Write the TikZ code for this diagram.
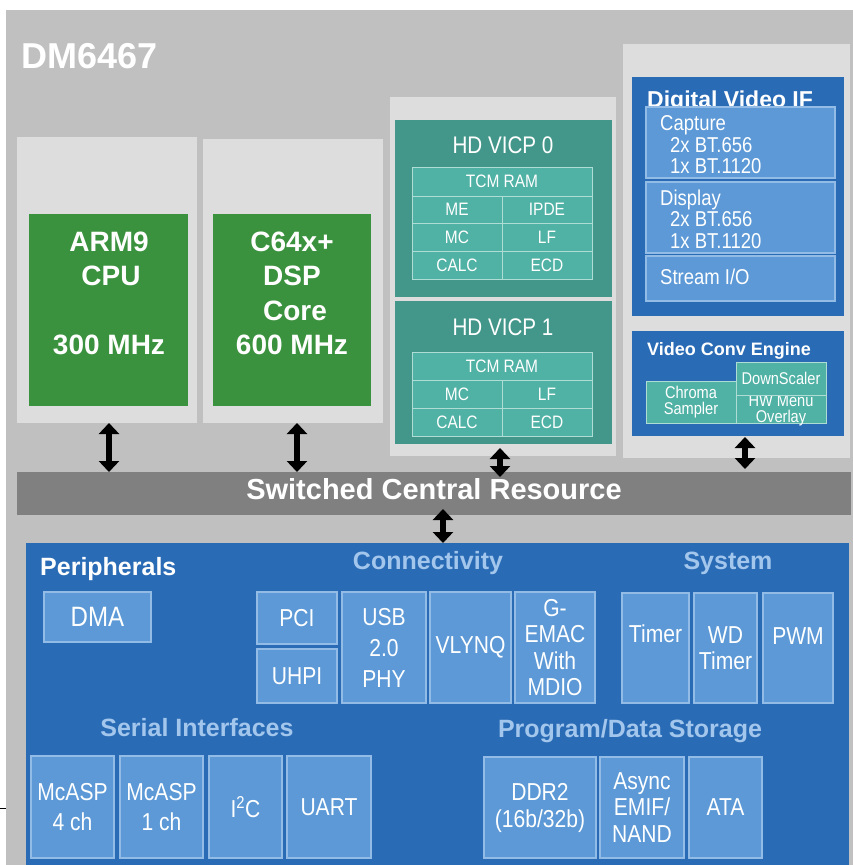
\documentclass[tikz,border=0pt]{standalone}
\usepackage{fontspec}
\setmainfont{Liberation Sans}
\newfontfamily\narrowfont[FakeStretch=0.86]{Liberation Sans}
\usetikzlibrary{arrows.meta}
\definecolor{outergray}{HTML}{C0C0C0}
\definecolor{lightgray}{HTML}{DDDDDD}
\definecolor{cpugreen}{HTML}{3B923E}
\definecolor{teal1}{HTML}{43978A}
\definecolor{tealcell}{HTML}{50B1A5}
\definecolor{tealedge}{HTML}{B0DCD6}
\definecolor{blue1}{HTML}{2A6BB5}
\definecolor{bluecell}{HTML}{5C99D6}
\definecolor{blueedge}{HTML}{92BBE6}
\definecolor{scrgray}{HTML}{808080}
\definecolor{headblue}{HTML}{A3C6EC}
\tikzset{
  rbox/.style={anchor=north west, inner sep=0pt, outer sep=0pt},
  lgbox/.style={rbox, fill=lightgray},
  cpubox/.style={rbox, fill=cpugreen},
  cputext/.style={text=white, inner sep=0pt, align=center, font=\fontsize{28}{34.3}\selectfont\bfseries},
  vicpbox/.style={rbox, fill=teal1},
  vicptitle/.style={text=white, inner sep=0pt, font=\narrowfont\fontsize{24}{28}\selectfont},
  tcell/.style={rbox, fill=tealcell, draw=tealedge, line width=1pt, text=white, align=center, font=\narrowfont\fontsize{18}{20}\selectfont},
  bluebox/.style={rbox, fill=blue1},
  subbox/.style={rbox, fill=bluecell, draw=blueedge, line width=1.2pt},
  subtext/.style={anchor=west, inner sep=0pt, text=white, align=left, font=\narrowfont\fontsize{21.5}{21.5}\selectfont},
  pbox/.style={subbox, text=white, align=center, font=\narrowfont\fontsize{24.5}{27}\selectfont},
  ptext/.style={text=white, inner sep=0pt, align=center, font=\narrowfont\fontsize{24.5}{27}\selectfont},
  pheading/.style={anchor=base, inner sep=0pt, text=headblue, font=\fontsize{25}{30}\selectfont\bfseries},
  dblarrow/.style={line width=6.5pt, black, {Triangle[width=20pt,length=11pt]}-{Triangle[width=20pt,length=11pt]}}
}
\begin{document}
\begin{tikzpicture}[x=1pt,y=-1pt]
\useasboundingbox (0,0) rectangle (853,865);
% chip background
\node[rbox, fill=outergray, minimum width=847pt, minimum height=855pt] (chip) at (6,10) {};
\node[anchor=base west, inner sep=0pt, text=white, font=\fontsize{36}{40}\selectfont\bfseries] (title) at (21,68) {DM6467};
\coordinate (tickA) at (0,808);
\coordinate (tickB) at (6,808);
\draw[black, line width=0.8pt] (tickA) -- (tickB);

% CPU blocks
\node[lgbox, minimum width=180pt, minimum height=286pt] (armL) at (17,137) {};
\node[cpubox, minimum width=159pt, minimum height=192pt] (arm) at (29,214) {};
\node[cputext] (armT) at (109,293.5) {ARM9\\\hspace*{4pt}CPU\\~\\300 MHz};
\node[lgbox, minimum width=180pt, minimum height=284pt] (dspL) at (203,139) {};
\node[cpubox, minimum width=158pt, minimum height=192pt] (dsp) at (213,214) {};
\node[cputext] (dspT) at (292,293.5) {C64x+\\DSP\\\hspace*{6pt}Core\\600 MHz};

% HD VICP
\node[lgbox, minimum width=226pt, minimum height=359pt] (vicpL) at (390,97) {};
\node[vicpbox, minimum width=217pt, minimum height=177pt] (vicp0) at (395,120) {};
\node[vicptitle] (vicp0T) at (503,145) {HD VICP 0};
\node[tcell, minimum width=180pt, minimum height=29pt] (tcm0) at (412,167) {TCM RAM};
\node[tcell, minimum width=90pt, minimum height=27pt] (me0) at (412,196) {ME};
\node[tcell, minimum width=90pt, minimum height=27pt] (ipde0) at (502,196) {IPDE};
\node[tcell, minimum width=90pt, minimum height=28pt] (mc0) at (412,223) {MC};
\node[tcell, minimum width=90pt, minimum height=28pt] (lf0) at (502,223) {LF};
\node[tcell, minimum width=90pt, minimum height=28pt] (calc0) at (412,251) {CALC};
\node[tcell, minimum width=90pt, minimum height=28pt] (ecd0) at (502,251) {ECD};
\node[vicpbox, minimum width=217pt, minimum height=143pt] (vicp1) at (395,301) {};
\node[vicptitle] (vicp1T) at (503,327) {HD VICP 1};
\node[tcell, minimum width=180pt, minimum height=28pt] (tcm1) at (412,352) {TCM RAM};
\node[tcell, minimum width=90pt, minimum height=28pt] (mc1) at (412,380) {MC};
\node[tcell, minimum width=90pt, minimum height=28pt] (lf1) at (502,380) {LF};
\node[tcell, minimum width=90pt, minimum height=28pt] (calc1) at (412,408) {CALC};
\node[tcell, minimum width=90pt, minimum height=28pt] (ecd1) at (502,408) {ECD};

% Digital Video IF + Video Conv Engine
\node[lgbox, minimum width=227pt, minimum height=414pt] (dvifL) at (623,44) {};
\node[bluebox, minimum width=212pt, minimum height=239pt] (dvif) at (632,77) {};
\node[anchor=base west, inner sep=0pt, text=white, font=\fontsize{23}{26}\selectfont\bfseries] (dvifT) at (647,107) {Digital Video IF};
\node[subbox, minimum width=189pt, minimum height=71pt] (capture) at (646,107) {};
\node[subtext] (captureT) at (660,145) {Capture\\\hspace*{10pt}2x BT.656\\\hspace*{10pt}1x BT.1120};
\node[subbox, minimum width=189pt, minimum height=71pt] (display) at (646,182) {};
\node[subtext] (displayT) at (660,219) {Display\\\hspace*{10pt}2x BT.656\\\hspace*{10pt}1x BT.1120};
\node[subbox, minimum width=189pt, minimum height=45pt] (stream) at (646,256) {};
\node[subtext] (streamT) at (660,277) {Stream I/O};

\node[bluebox, minimum width=212pt, minimum height=105pt] (vce) at (632,331) {};
\node[anchor=base west, inner sep=0pt, text=white, font=\fontsize{18}{20}\selectfont\bfseries] (vceT) at (647,355) {Video Conv Engine};
\node[tcell, minimum width=90pt, minimum height=42pt, font=\narrowfont\fontsize{17}{16.5}\selectfont] (chroma) at (646,381) {Chroma\\Sampler};
\node[tcell, minimum width=90pt, minimum height=28pt] (hwmenu) at (736,395) {};
\node[text=white, inner sep=0pt, align=center, font=\narrowfont\fontsize{17}{16}\selectfont] (hwmenuT) at (781,410) {HW Menu\\Overlay};
\node[tcell, minimum width=90pt, minimum height=33pt, font=\narrowfont\fontsize{17}{20}\selectfont] (downsc) at (736,362) {DownScaler};

% Switched Central Resource
\node[rbox, fill=scrgray, minimum width=834pt, minimum height=43pt] (scr) at (17,472) {};
\node[text=white, inner sep=0pt, font=\fontsize{29}{32}\selectfont\bfseries] (scrT) at (434,489) {Switched Central Resource};

% Peripherals
\node[bluebox, minimum width=823pt, minimum height=322pt] (peri) at (26,543) {};
\node[anchor=base west, inner sep=0pt, text=white, font=\fontsize{25}{30}\selectfont\bfseries] (periT) at (40,575) {Peripherals};
\node[pheading] (connT) at (428,569) {Connectivity};
\node[pheading] (sysT) at (728,569) {System};
\node[pheading] (serT) at (197,736) {Serial Interfaces};
\node[pheading] (progT) at (630,737) {Program/Data Storage};

\node[pbox, minimum width=107pt, minimum height=50pt, font=\narrowfont\fontsize{28}{30}\selectfont] (dma) at (44,592) {DMA};
\node[pbox, minimum width=80pt, minimum height=52pt] (pci) at (257,592) {PCI};
\node[pbox, minimum width=80pt, minimum height=54pt] (uhpi) at (257,649) {UHPI};
\node[pbox, minimum width=84pt, minimum height=111pt, font=\narrowfont\fontsize{24.5}{31}\selectfont] (usb) at (342,592) {USB\\2.0\\PHY};
\node[pbox, minimum width=81pt, minimum height=111pt] (vlynq) at (430,592) {VLYNQ};
\node[pbox, minimum width=80pt, minimum height=111pt, font=\narrowfont\fontsize{24.5}{26.3}\selectfont] (gemac) at (515,592) {G-\\EMAC\\With\\MDIO};
\node[pbox, minimum width=67pt, minimum height=110pt] (timer) at (622,593) {};
\node[ptext] (timerT) at ([yshift=14pt]timer.center) {Timer};
\node[pbox, minimum width=63pt, minimum height=110pt, font=\narrowfont\fontsize{24.5}{26}\selectfont] (wd) at (694,593) {WD\\Timer};
\node[pbox, minimum width=70pt, minimum height=110pt] (pwm) at (763,593) {};
\node[ptext] (pwmT) at ([yshift=12pt]pwm.center) {PWM};

\node[pbox, minimum width=83pt, minimum height=102pt, font=\narrowfont\fontsize{24.5}{30}\selectfont] (mcasp4) at (31,756) {McASP\\4 ch};
\node[pbox, minimum width=83pt, minimum height=102pt, font=\narrowfont\fontsize{24.5}{30}\selectfont] (mcasp1) at (120,756) {McASP\\1 ch};
\node[pbox, minimum width=73pt, minimum height=102pt] (i2c) at (209,756) {I\textsuperscript{2}C};
\node[pbox, minimum width=84pt, minimum height=102pt] (uart) at (287,756) {UART};
\node[pbox, minimum width=112pt, minimum height=101pt] (ddr2) at (484,757) {DDR2\\(16b/32b)};
\node[pbox, minimum width=84pt, minimum height=101pt, font=\narrowfont\fontsize{24.5}{26.5}\selectfont] (async) at (600,757) {Async\\EMIF/\\NAND};
\node[pbox, minimum width=73pt, minimum height=101pt] (ata) at (689,757) {ATA};

% connectors
\draw[dblarrow] ([xshift=2pt]armL.south) -- ([xshift=2pt]armL.south |- scr.north);
\draw[dblarrow] ([xshift=4pt]dspL.south) -- ([xshift=4pt]dspL.south |- scr.north);
\draw[dblarrow] ([xshift=-3pt,yshift=8pt]vicpL.south) -- ([xshift=-3pt,yshift=-5pt]vicpL.south |- scr.north);
\draw[dblarrow] ([xshift=7pt,yshift=-1pt]vce.south) -- ([xshift=7pt,yshift=3pt]vce.south |- scr.north);
\draw[dblarrow] ([xshift=9pt,yshift=6pt]scr.south) -- ([xshift=9pt]scr.south |- peri.north);
\end{tikzpicture}
\end{document}
